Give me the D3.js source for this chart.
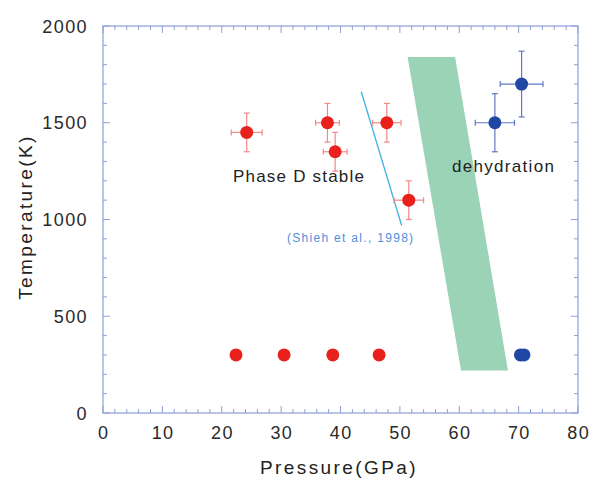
<!DOCTYPE html>
<html>
<head>
<meta charset="utf-8">
<script src="https://cdn.jsdelivr.net/npm/d3@7"></script>
<style>
  body { margin: 0; background: #fff; }
  svg { display: block; font-family: "Liberation Sans", Arial, sans-serif; }
</style>
</head>
<body>
<svg id="chart" width="590" height="479"></svg>
<script>
// red points: phase D stable (pressure GPa, temperature K, error bars)
var stableP   = [24.2, 37.8, 39.1, 47.8, 51.5];
var stableT   = [1450, 1500, 1350, 1500, 1100];
var stablePE  = [2.6, 2.0, 2.0, 2.4, 2.5];
var stableTE  = [100, 100, 100, 100, 100];

// blue points: dehydration
var dehydP    = [66.0, 70.5];
var dehydT    = [1500, 1700];
var dehydPE   = [3.3, 3.6];
var dehydTE   = [150, 170];

// room temperature runs
var roomRedP  = [22.4, 30.5, 38.7, 46.5];
var roomBlueP = [70.3, 70.9];
var roomT     = 300;

// green dehydration band (corners)
var bandP = [51.3, 59.3, 68.2, 60.3];
var bandT = [1840, 1840, 220, 220];

// Shieh et al. 1998 boundary line
var shiehP = [43.5, 50.3];
var shiehT = [1660, 1000];

var xTicks = [0, 10, 20, 30, 40, 50, 60, 70, 80];
var yTicks = [0, 500, 1000, 1500, 2000];

var svg = d3.select("#chart");
//plot box (note: "top" is reserved on window, so use pTop etc.)
var pLeft = 103, pRight = 578, pTop = 26, pBottom = 413;

var x = d3.scaleLinear().domain([0, 80]).range([pLeft, pRight]);
var y = d3.scaleLinear().domain([0, 2000]).range([pBottom, pTop]);

var axisColor = "#8e9fd9";
var red = "#e8211c", blue = "#1f47a3";

//the green band
svg.append("polygon")
   .attr("points", bandP.map(function(p, i){ return x(p) + "," + y(bandT[i]); }).join(" "))
   .attr("fill", "#9bd3b6");

//frame
svg.append("rect")
   .attr("x", pLeft).attr("y", pTop)
   .attr("width", pRight - pLeft).attr("height", pBottom - pTop)
   .attr("fill", "none").attr("stroke", axisColor).attr("stroke-width", 1.2);

//inward ticks on all four sides, minor every 2 GPa / 100 K
d3.range(0, 81, 2).forEach(function(v){
  var len = (v % 10 === 0) ? 7 : 4;
  svg.append("line").attr("x1", x(v)).attr("x2", x(v)).attr("y1", pBottom).attr("y2", pBottom - len)
     .attr("stroke", axisColor);
  svg.append("line").attr("x1", x(v)).attr("x2", x(v)).attr("y1", pTop).attr("y2", pTop + len)
     .attr("stroke", axisColor);
});
d3.range(0, 2001, 100).forEach(function(v){
  var len = (v % 500 === 0) ? 7 : 4;
  svg.append("line").attr("y1", y(v)).attr("y2", y(v)).attr("x1", pLeft).attr("x2", pLeft + len)
     .attr("stroke", axisColor);
  svg.append("line").attr("y1", y(v)).attr("y2", y(v)).attr("x1", pRight).attr("x2", pRight - len)
     .attr("stroke", axisColor);
});

//tick labels
svg.selectAll(".xl").data(xTicks).enter().append("text")
   .attr("x", function(d){ return x(d) + 0.7; }).attr("y", 439)
   .attr("text-anchor", "middle").attr("font-size", 18).attr("letter-spacing", 1.4)
   .attr("fill", "#2a2a2a")
   .text(function(d){ return d; });
svg.selectAll(".yl").data(yTicks).enter().append("text")
   .attr("x", 88).attr("y", function(d){ return y(d) + 6.5; })
   .attr("text-anchor", "end").attr("font-size", 18).attr("letter-spacing", 1.4)
   .attr("fill", "#2a2a2a")
   .text(function(d){ return d; });

//axis titles
svg.append("text").attr("x", 339).attr("y", 474).attr("text-anchor", "middle")
   .attr("font-size", 19).attr("letter-spacing", 2.4).attr("fill", "#222").text("Pressure(GPa)");
svg.append("text").attr("transform", "translate(32,217) rotate(-90)").attr("text-anchor", "middle")
   .attr("font-size", 19).attr("letter-spacing", 2.4).attr("fill", "#222").text("Temperature(K)");

//Shieh line
svg.append("line")
   .attr("x1", x(shiehP[0])).attr("y1", y(shiehT[0]))
   .attr("x2", x(shiehP[1])).attr("y2", y(shiehT[1]) + 6)
   .attr("stroke", "#3fb2e3").attr("stroke-width", 1.3);

//error bars + points
function errPoints(P, T, PE, TE, col, barCol){
  var g = svg.append("g");
  P.forEach(function(p, i){
    var cx = x(p), cy = y(T[i]);
    var x0 = x(p - PE[i]), x1 = x(p + PE[i]);
    var y0 = y(T[i] - TE[i]), y1 = y(T[i] + TE[i]);
    g.append("line").attr("x1", x0).attr("x2", x1).attr("y1", cy).attr("y2", cy)
     .attr("stroke", barCol).attr("stroke-width", 1.2);
    g.append("line").attr("x1", cx).attr("x2", cx).attr("y1", y0).attr("y2", y1)
     .attr("stroke", barCol).attr("stroke-width", 1.2);
    [x0, x1].forEach(function(xx){
      g.append("line").attr("x1", xx).attr("x2", xx).attr("y1", cy - 3).attr("y2", cy + 3)
       .attr("stroke", barCol).attr("stroke-width", 1.2);
    });
    [y0, y1].forEach(function(yy){
      g.append("line").attr("x1", cx - 3).attr("x2", cx + 3).attr("y1", yy).attr("y2", yy)
       .attr("stroke", barCol).attr("stroke-width", 1.2);
    });
    g.append("circle").attr("cx", cx).attr("cy", cy).attr("r", 6.5).attr("fill", col);
  });
}
errPoints(stableP, stableT, stablePE, stableTE, red, "#f08a86");
errPoints(dehydP, dehydT, dehydPE, dehydTE, blue, "#5f78c4");

svg.selectAll(".rr").data(roomRedP).enter().append("circle")
   .attr("cx", function(d){ return x(d); }).attr("cy", y(roomT)).attr("r", 6.5).attr("fill", red);
svg.selectAll(".rb").data(roomBlueP).enter().append("circle")
   .attr("cx", function(d){ return x(d); }).attr("cy", y(roomT)).attr("r", 6.5).attr("fill", blue);

//annotations
svg.append("text").attr("x", 233).attr("y", 182).attr("font-size", 17).attr("letter-spacing", 1.2)
   .attr("fill", "#222").text("Phase D stable");
svg.append("text").attr("x", 452).attr("y", 172).attr("font-size", 17).attr("letter-spacing", 1.3)
   .attr("fill", "#222").text("dehydration");
svg.append("text").attr("x", 287).attr("y", 242).attr("font-size", 12).attr("letter-spacing", 1.3)
   .attr("fill", "#4d8fdc").text("(Shieh et al., 1998)");
</script>
</body>
</html>
